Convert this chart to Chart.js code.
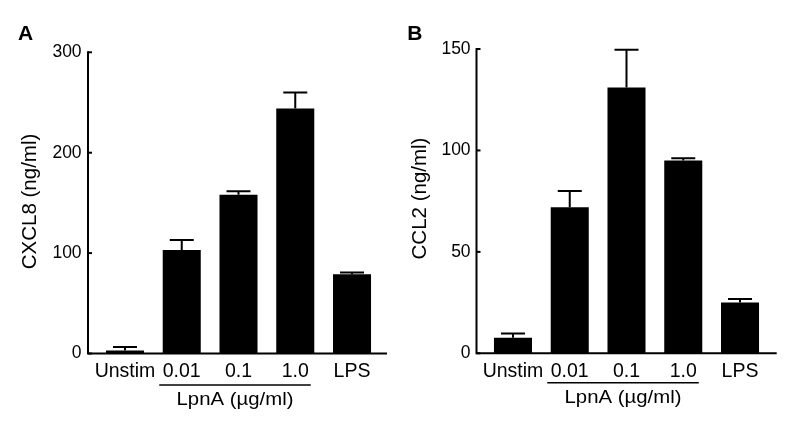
<!DOCTYPE html>
<html><head><meta charset="utf-8">
<script src="https://cdn.jsdelivr.net/npm/chart.js@4/dist/chart.umd.min.js"></script>
<style>
html,body{margin:0;padding:0;background:#fff;}
#wrap{position:relative;width:796px;height:426px;overflow:hidden;background:#fff;}
canvas{position:absolute;top:0;}
</style></head><body>
<div id="wrap">
<canvas id="cA" width="388" height="426" style="left:0;width:388px;height:426px"></canvas>
<canvas id="cB" width="408" height="426" style="left:388px;width:408px;height:426px"></canvas>
</div>
<script>
// ---- data ----
const categories = ['Unstim', '0.01', '0.1', '1.0', 'LPS'];
const cxcl8Mean = [3, 103, 158, 244, 79];
const cxcl8Err = [3.5, 10, 3.5, 16, 1.6];
const ccl2Mean = [7.7, 72, 131, 95, 25];
const ccl2Err = [2, 8, 18.6, 1.1, 1.8];
const cxcl8Ticks = [0, 100, 200, 300];
const ccl2Ticks = [0, 50, 100, 150];
const groupLabel = 'LpnA (µg/ml)';
const groupFirst = '0.01', groupLast = '1.0';

const FONT = '"Liberation Sans", Arial, Helvetica, sans-serif';
Chart.defaults.font.family = FONT;
Chart.defaults.color = '#000';

const figPlugin = {
  id: 'fig',
  afterDraw(chart, args, o) {
    const ctx = chart.ctx, ca = chart.chartArea;
    const xs = chart.scales.x, ys = chart.scales.y;
    ctx.save();
    ctx.strokeStyle = '#000'; ctx.fillStyle = '#000';
    ctx.lineWidth = 2; ctx.lineCap = 'butt';
    // error bars (upper)
    const meta = chart.getDatasetMeta(0);
    const vals = chart.data.datasets[0].data;
    meta.data.forEach((bar, i) => {
      const yBar = ys.getPixelForValue(vals[i]);
      const yTop = ys.getPixelForValue(vals[i] + o.errors[i]);
      ctx.beginPath();
      ctx.moveTo(bar.x, yBar); ctx.lineTo(bar.x, yTop);
      ctx.moveTo(bar.x - 12, yTop); ctx.lineTo(bar.x + 12, yTop);
      ctx.stroke();
    });
    // axes
    const ax = ca.left - o.gapL;
    const yb = ys.getPixelForValue(0);
    ctx.beginPath();
    ctx.moveTo(ax, ys.getPixelForValue(ys.max) - 1);
    ctx.lineTo(ax, yb);
    ctx.lineTo(ca.right + o.gapR, yb);
    ctx.stroke();
    ys.ticks.forEach(t => {
      const p = ys.getPixelForValue(t.value);
      ctx.beginPath(); ctx.moveTo(ax, p); ctx.lineTo(ax + 4, p); ctx.stroke();
    });
    // y title
    ctx.save();
    ctx.font = '20.5px ' + FONT;
    ctx.textAlign = 'center'; ctx.textBaseline = 'middle';
    ctx.translate(o.titleX, o.titleY); ctx.rotate(-Math.PI / 2);
    ctx.fillText(o.title, 0, 0);
    ctx.restore();
    // panel letter
    ctx.font = 'bold 21px ' + FONT;
    ctx.textAlign = 'left'; ctx.textBaseline = 'alphabetic';
    ctx.fillText(o.letter, o.letterX, 40);
    // group bracket
    const i0 = categories.indexOf(groupFirst), i1 = categories.indexOf(groupLast);
    const lx0 = xs.getPixelForValue(i0) - 22.5, lx1 = xs.getPixelForValue(i1) + 15.5;
    ctx.lineWidth = 1.5;
    ctx.beginPath(); ctx.moveTo(lx0, o.lineY); ctx.lineTo(lx1, o.lineY); ctx.stroke();
    ctx.save();
    ctx.font = '18.5px ' + FONT;
    ctx.textAlign = 'center'; ctx.textBaseline = 'alphabetic';
    ctx.translate((lx0 + lx1) / 2, o.lineY + 20);
    ctx.scale(1.1, 1);
    ctx.fillText(groupLabel, 0, 0);
    ctx.restore();
    ctx.restore();
  }
};

function makeChart(id, values, errs, ticks, o) {
  return new Chart(document.getElementById(id), {
    type: 'bar',
    data: { labels: categories, datasets: [{ data: values, backgroundColor: '#000', borderWidth: 0, barPercentage: 0.67, categoryPercentage: 1 }] },
    options: {
      responsive: false, animation: false, devicePixelRatio: 1,
      layout: { padding: { top: o.top, right: o.right, left: 0, bottom: 0 } },
      plugins: {
        legend: { display: false }, tooltip: { enabled: false },
        fig: { errors: errs, gapL: o.gapL, gapR: o.gapR, title: o.title, titleX: o.titleX, titleY: o.titleY, letter: o.letter, letterX: o.letterX, lineY: o.lineY }
      },
      scales: {
        x: {
          offset: true,
          grid: { display: false, drawTicks: false }, border: { display: false },
          ticks: { color: '#000', font: { size: 19.5 }, padding: 6.5, maxRotation: 0, autoSkip: false },
          afterFit(s) { s.height = 426 - o.bottom; }
        },
        y: {
          min: 0, max: ticks[ticks.length - 1],
          afterBuildTicks(s) { s.ticks = ticks.map(v => ({ value: v })); },
          grid: { display: false, drawTicks: false }, border: { display: false },
          ticks: { color: '#000', font: { size: 17.5 }, padding: o.tickPad },
          afterFit(s) { s.width = 96.6; }
        }
      }
    },
    plugins: [figPlugin]
  });
}

makeChart('cA', cxcl8Mean, cxcl8Err, cxcl8Ticks, {
  top: 52.3, bottom: 353.5, right: 7.6, gapL: 8.6, gapR: 6.6, tickPad: 15,
  title: 'CXCL8 (ng/ml)', titleX: 30.5, titleY: 201.5, letter: 'A', letterX: 18, lineY: 385
});
makeChart('cB', ccl2Mean, ccl2Err, ccl2Ticks, {
  top: 49, bottom: 353.3, right: 27.6, gapL: 8.1, gapR: 8.3, tickPad: 14,
  title: 'CCL2 (ng/ml)', titleX: 32.5, titleY: 198.5, letter: 'B', letterX: 19.3, lineY: 382.7
});
</script>
</body></html>
